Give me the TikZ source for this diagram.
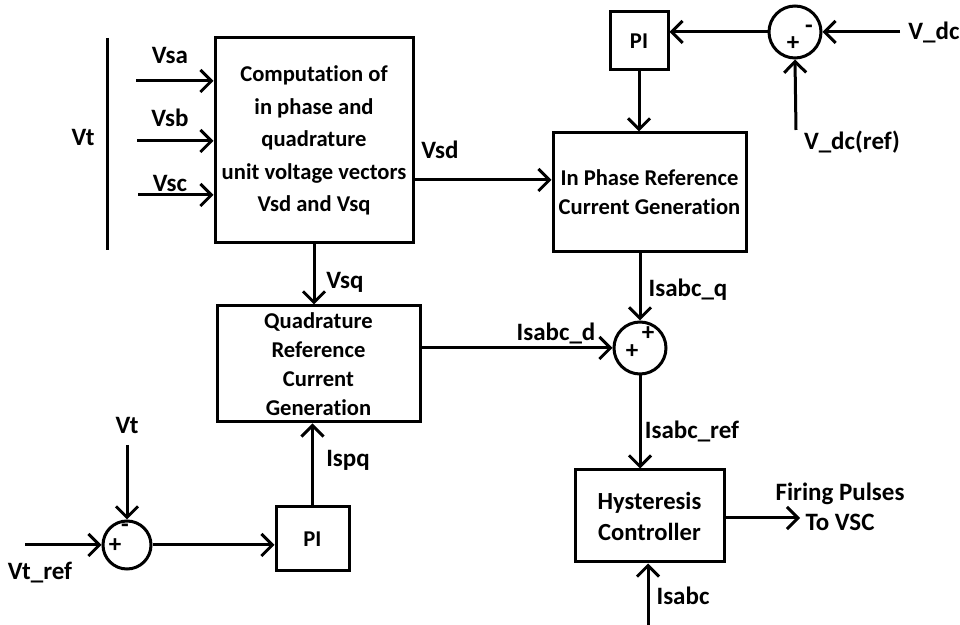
\documentclass[tikz,border=0pt]{standalone}
\usepackage{fontspec}
\setmainfont{Carlito}[Ligatures=NoCommon]
\usetikzlibrary{arrows.meta}

\begin{document}
\begin{tikzpicture}[x=0.5pt,y=-0.5pt,line width=1.5pt,
    font=\fontsize{12.5}{15}\selectfont\bfseries,
    block/.style={draw,inner sep=0pt,align=center,font=\fontsize{11.3}{14.5}\selectfont\bfseries},
    sum/.style={draw,circle,inner sep=0pt,minimum size=26pt},
    sig/.style={inner sep=0pt,font=\fontsize{12.5}{12.5}\selectfont\bfseries},
    >={Straight Barb[length=5.5pt,width=11pt]}]
    \useasboundingbox (0,0) rectangle (960,625);

    % blocks
    \node [block,minimum width=99pt,minimum height=102.5pt,font=\fontsize{11.3}{16.25}\selectfont\bfseries] (comp) at (314,140.5) {Computation of\\in phase and\\quadrature\\unit voltage vectors\\Vsd and Vsq};
    \node [block,minimum width=96.5pt,minimum height=59.5pt] (inph) at (649.5,192.5) {In Phase Reference\\Current Generation};
    \node [block,minimum size=29pt] (pi1) at (639,41) {PI};
    \node [sum] (sum1) at (795,32) {};
    \node [block,minimum width=101.5pt,minimum height=58pt] (quad) at (318.5,364) {Quadrature\\Reference\\Current\\Generation};
    \node [sum] (sum2) at (640,348) {};
    \node [block,minimum width=74.5pt,minimum height=46pt,font=\fontsize{12.3}{15.5}\selectfont\bfseries] (hyst) at (649.5,516) {Hysteresis\\Controller};
    \node [sum,minimum size=24pt] (sum3) at (127,545) {};
    \node [block,minimum width=36.5pt,minimum height=32pt] (pi2) at (312.5,539) {PI};

    % signs
    \node [sig] (s1a) at (793,44) {+};
    \node [sig] (s1b) at (809,29) {-};
    \node [sig] (s2a) at (648,334) {+};
    \node [sig] (s2b) at (632,352) {+};
    \node [sig] (s3a) at (125,528) {-};
    \node [sig] (s3b) at (115,546) {+};

    % free ends
    \coordinate (va) at (136,81);
    \coordinate (vb) at (137,141);
    \coordinate (vc) at (138,195);
    \coordinate (vdc) at (900,32);
    \coordinate (vdcref) at (796,130);
    \coordinate (fire) at (800,518);
    \coordinate (isabc) at (648,625);
    \coordinate (vt) at (127,445);
    \coordinate (vtref) at (25,545);

    % labels
    \node (lvt) at (83,137) {Vt};
    \node (lvsa) at (170,55) {Vsa};
    \node (lvsb) at (170,118) {Vsb};
    \node (lvsc) at (170,183) {Vsc};
    \node (lvsd) at (440,150) {Vsd};
    \node (lvsq) at (345,282) {Vsq};
    \node (lvdc) at (934,32) {V\_dc};
    \node (lvdcref) at (852,142) {V\_dc(ref)};
    \node (liq) at (688,290) {Isabc\_q};
    \node (lid) at (556,333) {Isabc\_d};
    \node (liref) at (692,431) {Isabc\_ref};
    \node [align=center] (lfire) at (840,507) {Firing Pulses\\To VSC};
    \node (lisabc) at (683,596) {Isabc};
    \node (lispq) at (348,460) {Ispq};
    \node (lvt2) at (127,425) {Vt};
    \node (lvtref) at (40,573) {Vt\_ref};

    \draw (107,38) -- (107,250);

    \draw[->] (va) -- (comp.west |- va);
    \draw[->] (vb) -- (comp.west |- vb);
    \draw[->] (vc) -- (comp.west |- vc);
    \draw[->] (comp.east |- 0,180) -- (inph.west |- 0,180);
    \draw[->] (comp.south) -- (comp.south |- quad.north);
    \draw[->] (pi1.south) -- (pi1.south |- inph.north);
    \draw[->] (sum1.west) -- (pi1.east |- sum1.west);
    \draw[->] (vdc) -- (sum1.east);
    \draw[->] (vdcref) -- (sum1.south);
    \draw[->] (sum2 |- inph.south) -- (sum2.north);
    \draw[->] (quad.east |- sum2.west) -- (sum2.west);
    \draw[->] (sum2.south) -- (sum2 |- hyst.north);
    \draw[->] (hyst.east |- fire) -- (fire);
    \draw[->] (isabc) -- (isabc |- hyst.south);
    \draw[->] (pi2.north) -- (pi2 |- quad.south);
    \draw[->] (sum3.east) -- (sum3 -| pi2.west);
    \draw[->] (vt) -- (sum3.north);
    \draw[->] (vtref) -- (sum3.west);

  \end{tikzpicture}
\end{document}
